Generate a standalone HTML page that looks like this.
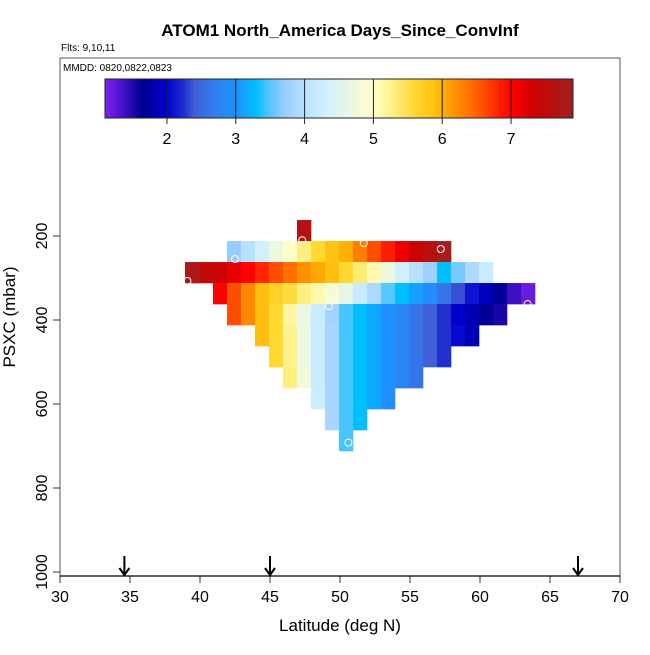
<!DOCTYPE html>
<html><head><meta charset="utf-8"><style>
body{margin:0;background:#fff;}
svg text{font-family:"Liberation Sans",Arial,sans-serif;}
</style></head><body>
<svg id="chart" width="650" height="650" xmlns="http://www.w3.org/2000/svg">
<text x="340" y="36" text-anchor="middle" font-size="17" font-weight="bold">ATOM1 North_America Days_Since_ConvInf</text>
<text x="61" y="51" font-size="10">Flts: 9,10,11</text>
<rect x="60" y="58" width="560" height="518" fill="none" stroke="#555" stroke-width="1"/>
<text x="63" y="71" font-size="10">MMDD: 0820,0822,0823</text>
<g id="colorbar"></g>
<g id="cells"></g>
<g id="circles"></g>
<g id="axes"></g>
<text x="340" y="631" text-anchor="middle" font-size="17">Latitude (deg N)</text>
<text transform="translate(15,317) rotate(-90)" text-anchor="middle" font-size="17">PSXC (mbar)</text>
</svg>
<script>
const rowTopP = [162,212,262,312,362,412,462,512,562,612,662];
const rowStartLat = [47,42,39,41,42,44,45,46,48,49,50];
const rowValues = [
 [7.6],
 [3.7,4.0,4.3,4.7,5.0,5.3,5.6,5.85,6.0,6.3,6.6,6.85,7.1,7.35,7.6,7.8],
 [7.75,7.5,7.35,7.15,7.0,6.8,6.6,6.4,6.2,6.05,5.9,5.6,5.35,5.1,4.7,4.3,4.0,3.75,3.3,3.6,3.9,4.2],
 [7.0,6.6,6.25,5.9,5.7,5.55,5.3,5.1,4.85,4.6,4.2,3.9,3.5,3.3,3.1,2.95,2.6,2.35,2.1,1.9,1.7,1.4,1.2],
 [6.6,6.25,5.9,5.6,5.15,4.65,4.2,3.8,3.45,3.3,3.15,3.0,2.8,2.6,2.4,2.25,2.0,1.85,1.7,1.55],
 [5.9,5.6,5.25,4.7,4.2,3.85,3.45,3.3,3.15,3.0,2.8,2.6,2.4,2.25,2.05,1.9],
 [5.6,5.25,4.7,4.2,3.85,3.45,3.3,3.15,3.0,2.8,2.6,2.4,2.25],
 [5.3,4.8,4.2,3.85,3.45,3.3,3.15,3.0,2.8,2.6],
 [4.25,3.85,3.45,3.3,3.15,3.0],
 [3.85,3.45,3.3],
 [3.45]
];
const markerLat = [39.1,42.5,47.3,51.7,57.2,49.2,63.4,50.6];
const markerP = [307,255,210,217,231,367,362,692];
const arrowLat = [34.6,45,67];
const xTicks = [30,35,40,45,50,55,60,65,70];
const yTicks = [200,400,600,800,1000];
const cbTicks = [2,3,4,5,6,7];
const cbMin = 1.1, cbMax = 7.9;

const stops = [[1.1,'#8020f0'],[1.4,'#3a10c0'],[1.65,'#000090'],[2.0,'#0000cd'],[2.25,'#2030d0'],[2.4,'#4060d8'],[2.7,'#3080f0'],[3.0,'#1e90ff'],[3.3,'#00bfff'],[3.45,'#48c4ff'],[3.7,'#98ccff'],[4.0,'#b8e0ff'],[4.3,'#d0f0ff'],[4.7,'#ecf8e0'],[5.0,'#ffffc8'],[5.3,'#ffee80'],[5.6,'#ffd830'],[5.9,'#ffbf10'],[6.1,'#ffa000'],[6.5,'#ff6000'],[7.0,'#ff0000'],[7.3,'#d00000'],[7.6,'#b81010'],[7.9,'#a02020']];
function hx(c){return [1,3,5].map(i=>parseInt(c.substr(i,2),16));}
function color(v){
  if(v<=stops[0][0])return stops[0][1];
  for(let i=1;i<stops.length;i++){
    if(v<=stops[i][0]){const a=hx(stops[i-1][1]),b=hx(stops[i][1]);const t=(v-stops[i-1][0])/(stops[i][0]-stops[i-1][0]);
      return 'rgb('+a.map((x,k)=>Math.round(x+(b[k]-x)*t)).join(',')+')';}
  }
  return stops[stops.length-1][1];
}
const X = lat => 60 + (lat-30)*14;
const Y = p => 236 + (p-200)*0.42;
const CB = v => 105 + (v-cbMin)/(cbMax-cbMin)*468;
const NS='http://www.w3.org/2000/svg';
function mk(tag,attrs,parent){const e=document.createElementNS(NS,tag);for(const k in attrs)e.setAttribute(k,attrs[k]);parent.appendChild(e);return e;}

// colorbar
const cb=document.getElementById('colorbar');
for(let i=0;i<234;i++){
  const v=cbMin+(i+0.5)/234*(cbMax-cbMin);
  const r=mk('rect',{x:105+i*2,y:79,width:2.3,height:39,fill:color(v)},cb);
  
  
}
const cbf=mk('rect',{x:105,y:79,width:468,height:39,fill:'none',stroke:'#222','stroke-width':1},cb);


cbTicks.forEach(t=>{
  const l=mk('line',{x1:CB(t),x2:CB(t),y1:79,y2:124,stroke:'#222','stroke-width':1},cb);
  
  
  const tx=mk('text',{x:CB(t),y:144,'text-anchor':'middle','font-size':16},cb);
  tx.textContent=t;
  
  
});

// cells
const cg=document.getElementById('cells');
rowValues.forEach((row,r)=>{
  row.forEach((v,j)=>{
    const lat=rowStartLat[r]+j-0.07;
    const x0=X(lat),x1=X(lat+1),y0=Y(rowTopP[r]),y1=Y(rowTopP[r]+50);
    const c=mk('rect',{x:x0,y:y0,width:x1-x0+0.3,height:y1-y0+0.3,fill:color(v)},cg);
    
    
  });
});

// markers
const mg=document.getElementById('circles');
markerLat.forEach((lat,i)=>{
  const c=mk('circle',{cx:X(lat),cy:Y(markerP[i]),r:3.5,fill:'none',stroke:'#fff','stroke-width':1},mg);
  
  
});

// axes
const ag=document.getElementById('axes');
xTicks.forEach(t=>{
  const l=mk('line',{x1:X(t),x2:X(t),y1:576,y2:583,stroke:'#333'},ag);
  
  
  const tx=mk('text',{x:X(t),y:602,'text-anchor':'middle','font-size':16},ag);
  tx.textContent=t;
  
  
});
yTicks.forEach(t=>{
  const l=mk('line',{x1:53,x2:60,y1:Y(t),y2:Y(t),stroke:'#333'},ag);
  
  
  const tx=mk('text',{transform:'translate(47,'+Y(t)+') rotate(-90)','text-anchor':'middle','font-size':16},ag);
  tx.textContent=t;
  
  
});
const ax=mk('line',{x1:60,x2:620,y1:576,y2:576,stroke:'#000','stroke-width':1.2},ag);


arrowLat.forEach(lat=>{
  const x=X(lat);
  const a=mk('path',{d:'M'+x+' 556 L'+x+' 575 M'+(x-5)+' 568 L'+x+' 575 L'+(x+5)+' 568',stroke:'#000','stroke-width':2,fill:'none'},ag);
  
  
});
</script>
</body></html>
